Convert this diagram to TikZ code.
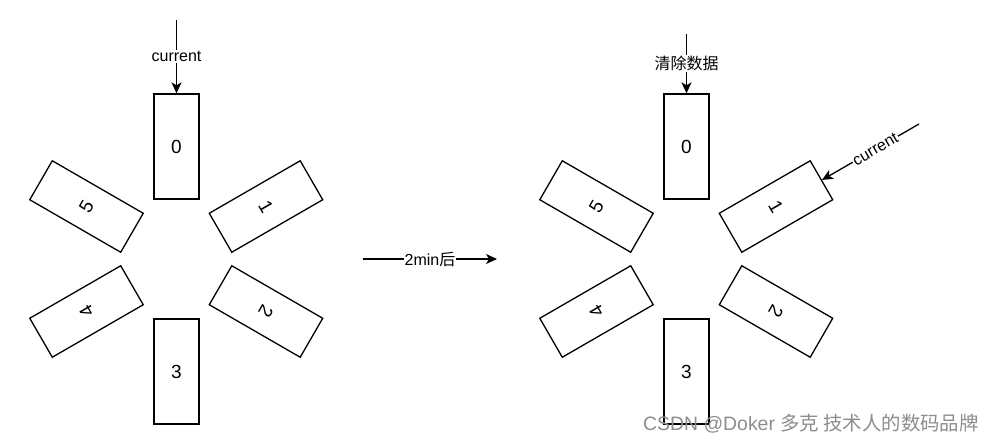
\documentclass[tikz,border=0pt]{standalone}
\usepackage{fontspec}
\setmainfont{Liberation Sans}
\newfontfamily\cjk{Noto Sans CJK SC}
\usetikzlibrary{arrows.meta}
\begin{document}
\begin{tikzpicture}[x=1pt,y=-1pt,
  slot/.style={draw=black,line width=1.3pt,fill=white,minimum width=45pt,minimum height=105pt,inner sep=0pt,font=\fontsize{19}{19}\selectfont},
  conn/.style={line width=1.3pt,-{Stealth[length=11pt,width=10pt,inset=3pt]}},
  lbl/.style={fill=white,inner sep=1pt,font=\fontsize{16}{16}\selectfont},
  wm/.style={text=black!45,font=\fontsize{19.4}{19.4}\selectfont,inner sep=0pt}]
\useasboundingbox (0,0) rectangle (992,444);
% left wheel
\node[slot] (l0) at (176.5,146.5) {0};
\node[slot,rotate=-60] (l1) at (266,206.5) {1};
\node[slot,rotate=-120] (l2) at (266,311.5) {2};
\node[slot] (l3) at (176.5,371.5) {3};
\node[slot,rotate=120] (l4) at (86.5,311.5) {4};
\node[slot,rotate=60] (l5) at (86.5,206.5) {5};
\coordinate (ls) at (176.5,20);
\draw[conn] (ls) -- node[lbl] {current} (l0.north);
% middle arrow
\coordinate (ma) at (363,259);
\coordinate (mb) at (497,259);
\draw[conn] (ma) -- node[lbl] {2min{\cjk 后}} (mb);
% right wheel
\node[slot] (r0) at (686.5,146.5) {0};
\node[slot,rotate=-60] (r1) at (776,206.5) {1};
\node[slot,rotate=-120] (r2) at (776,311.5) {2};
\node[slot] (r3) at (686.5,371.5) {3};
\node[slot,rotate=120] (r4) at (596.5,311.5) {4};
\node[slot,rotate=60] (r5) at (596.5,206.5) {5};
\coordinate (rs) at (686.5,34);
\draw[conn] (rs) -- node[lbl,font=\fontsize{16}{16}\selectfont\cjk] {清除数据} (r0.north);
\coordinate (rc) at (919,124);
\draw[conn] (rc) -- node[lbl,sloped,pos=0.45] {current} (r1.north);
% watermark
\node[wm,anchor=west] (wm) at (643,424) {CSDN @Doker {\cjk 多克 技术人的数码品牌}};
\end{tikzpicture}
\end{document}
